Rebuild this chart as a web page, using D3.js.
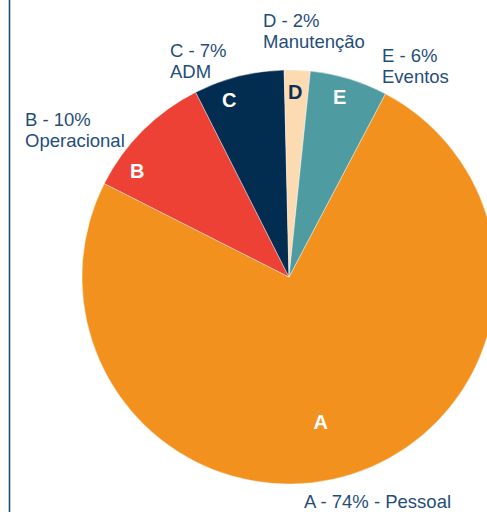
<!DOCTYPE html>
<html>
<head>
<meta charset="utf-8">
<title>Pie Chart</title>
<script src="https://cdn.jsdelivr.net/npm/d3@7"></script>
<style>
	body { margin: 0; background: #fff; }
	svg { display: block; }
	text { font-family: "Liberation Sans", Arial, sans-serif; }
</style>
</head>
<body>
<div class="pieChart"></div>
<script>
// data
var categories = ["A", "B", "C", "D", "E"];
var names = ["Pessoal", "Operacional", "ADM", "Manutenção", "Eventos"];
var values = [74, 10, 7, 2, 6];
var colors = ["#f3911f", "#ee4136", "#032c51", "#fddbb2", "#4e9ba2"];
var innerTextColors = ["#fff", "#fff", "#fff", "#0a3057", "#fff"];

var width = 487, height = 512;
var cx = 289, cy = 277, radius = 207;
var textColor = "#1f4e79";

// where the letter sits inside each slice: r = fraction of radius, t = fraction along the slice
var innerSpot = {
	A: {r: 0.716, t: 0.52},
	B: {r: 0.894, t: 0.22},
	C: {r: 0.904, t: 0.32},
	D: {r: 0.896, t: 0.45},
	E: {r: 0.902, t: 0.45}
};
// outer labels, offsets from the pie centre (left aligned, first baseline)
var outerSpot = {
	A: {dx: 15, dy: 231, oneLine: true},
	B: {dx: -264, dy: -151},
	C: {dx: -119, dy: -220},
	D: {dx: -26, dy: -250},
	E: {dx: 93, dy: -215}
};

var data = categories.map(function(c, i) {
	return {cat: c, name: names[i], value: values[i], color: colors[i], inner: innerTextColors[i]};
});

var svg = d3.select(".pieChart").append("svg")
	.attr("width", width)
	.attr("height", height);

// left border line
svg.append("line")
	.attr("x1", 9.5).attr("x2", 9.5)
	.attr("y1", 0).attr("y2", height)
	.attr("stroke", textColor)
	.attr("stroke-width", 1.6);

var g = svg.append("g")
	.attr("transform", "translate(" + cx + "," + cy + ")");

var startA = 27.75 * Math.PI / 180;
var pie = d3.pie()
	.sort(null)
	.value(function(d) { return d.value; })
	.startAngle(startA)
	.endAngle(startA + 2 * Math.PI);

var arc = d3.arc().innerRadius(0).outerRadius(radius);

var arcs = pie(data);

g.selectAll(".slice")
	.data(arcs)
	.enter().append("path")
	.attr("class", "slice")
	.attr("d", arc)
	.attr("fill", function(d) { return d.data.color; })
	.attr("stroke", "#fff")
	.attr("stroke-width", 0.4);

// letters inside the slices
g.selectAll(".inner")
	.data(arcs)
	.enter().append("text")
	.attr("class", "inner")
	.attr("transform", function(d) {
		var s = innerSpot[d.data.cat];
		var a = d.startAngle + s.t * (d.endAngle - d.startAngle);
		var r = s.r * radius;
		return "translate(" + (Math.sin(a) * r) + "," + (-Math.cos(a) * r) + ")";
	})
	.attr("text-anchor", "middle")
	.attr("dy", "0.36em")
	.style("font-size", "20px")
	.style("font-weight", "bold")
	.attr("fill", function(d) { return d.data.inner; })
	.text(function(d) { return d.data.cat; });

// outer labels
var pct = d3.format(".0%");
var total = d3.sum(values);
var outer = g.selectAll(".outer")
	.data(arcs)
	.enter().append("text")
	.attr("class", "outer")
	.attr("x", function(d) { return outerSpot[d.data.cat].dx; })
	.attr("y", function(d) { return outerSpot[d.data.cat].dy; })
	.style("font-size", "18.5px")
	.attr("fill", textColor);

outer.each(function(d) {
	var s = outerSpot[d.data.cat];
	var t = d3.select(this);
	var head = d.data.cat + " - " + d.data.value + "%";
	if (s.oneLine) {
		t.text(head + " - " + d.data.name);
	} else {
		t.append("tspan").attr("x", s.dx).text(head);
		t.append("tspan").attr("x", s.dx).attr("dy", 21).text(d.data.name);
	}
});
</script>
</body>
</html>
